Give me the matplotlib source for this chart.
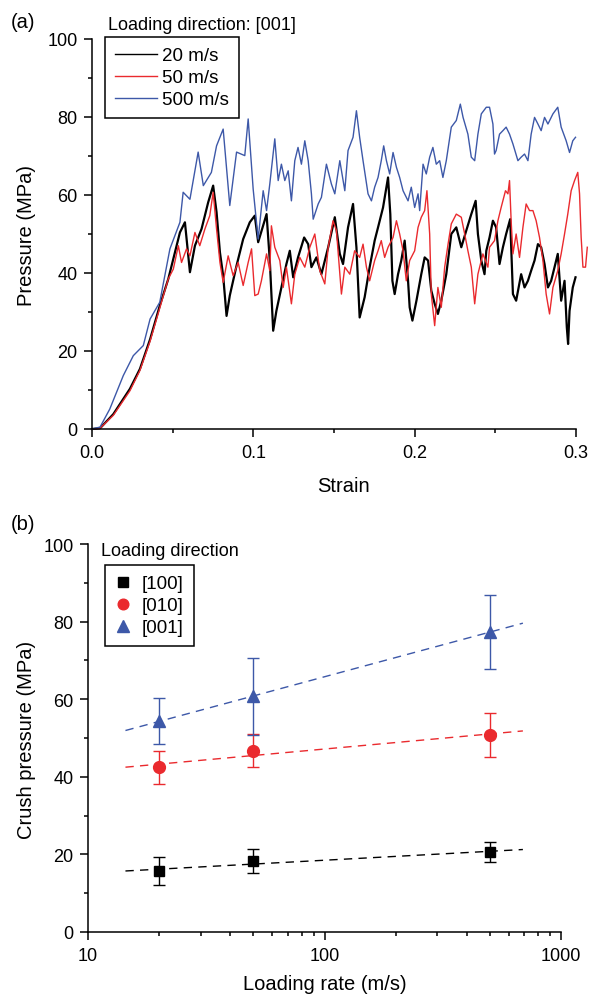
import numpy as np
import matplotlib
matplotlib.use("Agg")
import matplotlib.pyplot as plt
from matplotlib.ticker import MultipleLocator, FixedLocator, NullFormatter

plt.rcParams['font.family'] = ['Liberation Sans', 'DejaVu Sans']

# ---- (a) pressure-strain curves, loading direction [001] ----
strain_20 = [0, 0.005, 0.0132, 0.0235, 0.0297, 0.036, 0.042, 0.0473, 0.0545, 0.0576,
             0.0607, 0.0638, 0.0679, 0.072, 0.0751, 0.0772, 0.0793, 0.0813, 0.0834, 0.0854,
             0.0896, 0.0937, 0.0978, 0.1009, 0.1030, 0.1082, 0.1102, 0.1123, 0.1143, 0.1174,
             0.1205, 0.1226, 0.1247, 0.1277, 0.1315, 0.1340, 0.1360, 0.1391, 0.1422, 0.1464,
             0.1505, 0.1536, 0.1556, 0.1587, 0.1618, 0.1639, 0.1659, 0.1690, 0.1721, 0.1752,
             0.1773, 0.1804, 0.1835, 0.1849, 0.1862, 0.1876, 0.1897, 0.1917, 0.1938, 0.1959,
             0.1969, 0.1986, 0.2011, 0.2041, 0.2062, 0.2083, 0.2103, 0.2124, 0.2144, 0.2165,
             0.2196, 0.2227, 0.2258, 0.2289, 0.2320, 0.2351, 0.2378, 0.2392, 0.2413, 0.2433,
             0.2444, 0.2464, 0.2485, 0.2505, 0.2526, 0.2547, 0.2567, 0.2592, 0.2609, 0.2629,
             0.2660, 0.2681, 0.2702, 0.2722, 0.2743, 0.2764, 0.2784, 0.2805, 0.2826, 0.2846,
             0.2867, 0.2887, 0.2908, 0.2929, 0.2943, 0.2951, 0.2960, 0.2980, 0.2997]
press_20 = [0, 0.2, 3.8, 10.3, 15.4, 23.0, 31.6, 38.5, 50.4, 53.0,
            40.2, 47.0, 51.3, 58.1, 62.4, 55.6, 45.3, 39.3, 29.0, 34.2,
            41.9, 48.7, 53.0, 54.7, 47.9, 55.1, 43.2, 25.2, 30.3, 36.3,
            42.3, 45.7, 38.9, 44.0, 49.1, 47.4, 41.5, 44.0, 39.7, 46.6,
            54.3, 44.9, 42.3, 51.7, 57.7, 46.6, 28.6, 33.8, 41.5, 48.3,
            51.7, 56.8, 64.5, 55.1, 38.0, 34.6, 39.7, 43.2, 48.3, 38.0,
            31.2, 27.8, 32.9, 39.7, 44.0, 43.2, 35.5, 32.1, 29.5, 32.9,
            39.7, 50.0, 51.7, 46.6, 50.9, 55.1, 58.5, 50.0, 43.2, 39.7,
            45.7, 49.1, 53.4, 51.7, 42.3, 46.6, 50.0, 53.8, 34.6, 32.9,
            39.7, 36.3, 38.0, 40.6, 43.2, 47.4, 46.6, 42.3, 36.3, 38.0,
            41.5, 44.9, 32.9, 38.0, 26.1, 21.8, 30.3, 36.3, 38.9]

strain_50 = [0, 0.005, 0.0132, 0.0235, 0.0297, 0.036, 0.042, 0.0473, 0.0504, 0.0535,
             0.0555, 0.0586, 0.0607, 0.0638, 0.0668, 0.0700, 0.0730, 0.0751, 0.0772, 0.0793,
             0.0813, 0.0844, 0.0875, 0.0906, 0.0937, 0.0968, 0.0989, 0.1009, 0.1030, 0.1050,
             0.1082, 0.1102, 0.1112, 0.1133, 0.1164, 0.1185, 0.1205, 0.1236, 0.1257, 0.1288,
             0.1319, 0.1350, 0.1381, 0.1412, 0.1443, 0.1464, 0.1494, 0.1515, 0.1546, 0.1567,
             0.1598, 0.1628, 0.1659, 0.1680, 0.1701, 0.1721, 0.1752, 0.1773, 0.1793, 0.1814,
             0.1835, 0.1866, 0.1887, 0.1907, 0.1928, 0.1948, 0.1969, 0.2000, 0.2021, 0.2041,
             0.2062, 0.2076, 0.2093, 0.2103, 0.2124, 0.2144, 0.2165, 0.2186, 0.2207, 0.2227,
             0.2258, 0.2289, 0.2310, 0.2330, 0.2351, 0.2372, 0.2392, 0.2423, 0.2454, 0.2464,
             0.2495, 0.2516, 0.2536, 0.2563, 0.2578, 0.2588, 0.2598, 0.2609, 0.2629, 0.2650,
             0.2671, 0.2691, 0.2712, 0.2733, 0.2753, 0.2774, 0.2795, 0.2815, 0.2836, 0.2857,
             0.2887, 0.2908, 0.2929, 0.2949, 0.2970, 0.2991, 0.3011, 0.3022, 0.3032, 0.3043,
             0.3059, 0.3070]
press_50 = [0, 0.2, 3.5, 9.8, 15.0, 22.5, 31.0, 38.5, 41.0, 47.0,
            42.7, 46.2, 44.4, 50.4, 47.0, 51.3, 54.7, 60.7, 51.3, 42.7,
            37.6, 44.4, 39.3, 42.7, 36.8, 42.7, 46.2, 34.2, 34.6, 38.0,
            44.9, 40.6, 52.1, 46.6, 43.2, 36.3, 41.5, 32.1, 39.7, 44.0,
            41.5, 46.6, 50.0, 40.6, 37.2, 46.6, 53.4, 50.9, 34.6, 41.5,
            39.7, 45.7, 44.0, 47.4, 41.5, 38.0, 43.2, 45.7, 48.3, 44.0,
            46.6, 49.1, 53.4, 50.0, 45.7, 38.0, 43.2, 45.7, 51.7, 54.3,
            56.0, 61.1, 50.0, 34.6, 26.5, 36.3, 31.2, 41.5, 47.4, 52.6,
            55.1, 54.3, 50.0, 45.7, 41.5, 32.1, 39.7, 44.9, 41.5, 46.6,
            48.3, 53.4, 56.8, 61.1, 60.3, 63.7, 53.4, 44.9, 50.0, 44.0,
            51.7, 57.7, 56.0, 56.0, 53.4, 49.1, 43.2, 34.6, 29.5, 36.3,
            40.6, 44.9, 50.0, 55.1, 61.1, 63.7, 65.8, 60.3, 49.1, 41.5,
            41.5, 46.6]

strain_500 = [0, 0.005, 0.011, 0.0194, 0.0256, 0.0318, 0.036, 0.042, 0.0483, 0.0545,
              0.0565, 0.0607, 0.0658, 0.069, 0.074, 0.0772, 0.0813, 0.0854, 0.0896, 0.0947,
              0.0968, 0.0999, 0.103, 0.1061, 0.1082, 0.1102, 0.1133, 0.1154, 0.1174, 0.1195,
              0.1216, 0.1236, 0.1257, 0.1277, 0.1298, 0.1319, 0.1340, 0.1360, 0.1371, 0.1402,
              0.1422, 0.1453, 0.1484, 0.1505, 0.1536, 0.1567, 0.1587, 0.1618, 0.1639, 0.1659,
              0.1680, 0.1711, 0.1732, 0.1752, 0.1773, 0.1793, 0.1808, 0.1825, 0.1845, 0.1866,
              0.1887, 0.1907, 0.1928, 0.1959, 0.1979, 0.2000, 0.2021, 0.2031, 0.2052, 0.2072,
              0.2093, 0.2113, 0.2134, 0.2155, 0.2175, 0.2196, 0.2227, 0.2258, 0.2283, 0.2300,
              0.2330, 0.2351, 0.2372, 0.2392, 0.2413, 0.2444, 0.2464, 0.2485, 0.2495, 0.2505,
              0.2526, 0.2547, 0.2567, 0.2588, 0.2609, 0.2640, 0.2660, 0.2681, 0.2702, 0.2722,
              0.2743, 0.2764, 0.2784, 0.2805, 0.2826, 0.2857, 0.2887, 0.2908, 0.2939, 0.2960,
              0.2980, 0.2997]
press_500 = [0, 0.5, 5.1, 13.7, 18.8, 21.4, 28.2, 32.5, 46.2, 53.0,
             60.7, 58.9, 71.0, 62.4, 65.8, 72.6, 76.9, 57.3, 71.0, 70.1,
             79.5, 61.5, 48.7, 61.1, 56.0, 62.8, 74.4, 63.7, 67.9, 63.7,
             66.2, 58.5, 68.8, 72.2, 67.9, 73.9, 68.8, 60.3, 53.8, 57.7,
             59.4, 67.9, 62.8, 60.3, 68.8, 61.1, 71.4, 74.8, 81.6, 74.8,
             68.8, 60.3, 58.5, 62.0, 64.5, 68.8, 72.6, 68.8, 65.4, 70.9,
             67.1, 64.5, 61.1, 58.5, 62.0, 56.8, 60.3, 56.0, 67.9, 65.4,
             69.7, 72.2, 67.9, 68.8, 64.5, 68.8, 77.4, 79.1, 83.3, 79.9,
             75.6, 69.7, 68.8, 75.6, 80.8, 82.5, 82.5, 78.2, 70.5, 71.4,
             75.6, 76.5, 77.4, 75.6, 73.1, 68.8, 69.7, 70.5, 68.8, 75.6,
             79.9, 78.2, 76.5, 79.9, 78.2, 80.8, 82.5, 77.4, 73.9, 70.9,
             73.9, 74.8]

# ---- (b) crush pressure vs loading rate ----
rates = [20, 50, 500]
crush_100 = [15.7, 18.2, 20.6]
err_100 = [3.6, 3.1, 2.5]
crush_010 = [42.4, 46.7, 50.7]
err_010 = [4.3, 4.3, 5.7]
crush_001 = [54.3, 60.8, 77.3]
err_001 = [5.9, 9.9, 9.5]
fit_range = [14.4, 690]

BLACK = '#000000'
RED = '#ea2a2e'
BLUE = '#3d58a8'

fig = plt.figure(figsize=(5.91, 9.95), dpi=100)
W, H = 591, 995
TICK_FS = 13
LEG_FS = 13.5
LAB_FS = 14.5


def style_axes(ax):
    for side in ('top', 'right'):
        ax.spines[side].set_visible(False)
    for side in ('left', 'bottom'):
        ax.spines[side].set_linewidth(1.1)
    ax.tick_params(which='major', direction='out', length=5.5, width=1.1, labelsize=TICK_FS, pad=5)
    ax.tick_params(which='minor', direction='out', length=3, width=1.1)


# (a)
ax1 = fig.add_axes([92 / W, 1 - 430 / H, 484 / W, 390 / H])
style_axes(ax1)
ax1.plot(strain_20, press_20, color=BLACK, lw=1.6, label='20 m/s', clip_on=False)
ax1.plot(strain_50, press_50, color=RED, lw=1.0, label='50 m/s', clip_on=False)
ax1.plot(strain_500, press_500, color=BLUE, lw=1.0, label='500 m/s', clip_on=False)
ax1.set_xlim(0, 0.3)
ax1.set_ylim(0, 100)
ax1.xaxis.set_major_locator(MultipleLocator(0.1))
ax1.xaxis.set_minor_locator(MultipleLocator(0.05))
ax1.yaxis.set_major_locator(MultipleLocator(20))
ax1.yaxis.set_minor_locator(MultipleLocator(10))
ax1.set_xticklabels(['%.1f' % v for v in ax1.get_xticks()])
leg1 = ax1.legend(loc='upper left', bbox_to_anchor=(105 / W, 1 - 38 / H),
                  bbox_transform=fig.transFigure, borderaxespad=0, fancybox=False,
                  edgecolor='black', fontsize=LEG_FS, handlelength=2.2, handletextpad=0.3,
                  labelspacing=0.25, borderpad=0.55, framealpha=1)
leg1.get_frame().set_linewidth(1.1)
for line in leg1.get_lines():
    line.set_linewidth(1.0)
fig.text(108 / W, 1 - 25 / H, 'Loading direction: [001]', fontsize=LEG_FS - 0.5, ha='left', va='center')
fig.text(23 / W, 1 - 22 / H, '(a)', fontsize=LAB_FS, ha='center', va='center')
fig.text(27 / W, 1 - 235 / H, 'Pressure (MPa)', fontsize=LAB_FS, rotation=90, ha='center', va='center')
fig.text(343 / W, 1 - 487 / H, 'Strain', fontsize=LAB_FS, ha='center', va='center')

# (b)
ax2 = fig.add_axes([88 / W, 1 - 933 / H, 473 / W, 388 / H])
style_axes(ax2)
ax2.set_xscale('log')
ax2.set_xlim(10, 1000)
ax2.set_ylim(0, 100)
ax2.yaxis.set_major_locator(MultipleLocator(20))
ax2.yaxis.set_minor_locator(MultipleLocator(10))
ax2.xaxis.set_major_locator(FixedLocator([10, 100, 1000]))
ax2.set_xticklabels(['10', '100', '1000'])
ax2.xaxis.set_minor_locator(FixedLocator([m * d for d in (10, 100) for m in range(2, 10)]))
ax2.xaxis.set_minor_formatter(NullFormatter())

series = [(crush_100, err_100, BLACK, 's', '[100]', 7.5),
          (crush_010, err_010, RED, 'o', '[010]', 8.5),
          (crush_001, err_001, BLUE, '^', '[001]', 9)]
log_rates = np.log10(rates)
xfit = np.array(fit_range)
for vals, errs, col, mk, lab, ms in series:
    slope, icpt = np.polyfit(log_rates, vals, 1)
    ax2.plot(xfit, slope * np.log10(xfit) + icpt, ls=(0, (6, 4.5)), color=col, lw=1.0)
    ax2.errorbar(rates, vals, yerr=errs, fmt=mk, color=col, ms=ms, mec=col,
                 elinewidth=1.0, capsize=4, capthick=1.0, label=lab, clip_on=False)
handles, labels = ax2.get_legend_handles_labels()
leg2 = ax2.legend([h[0] for h in handles], labels, loc='upper left',
                  bbox_to_anchor=(105 / W, 1 - 566 / H), bbox_transform=fig.transFigure,
                  borderaxespad=0, fancybox=False, edgecolor='black', fontsize=LEG_FS,
                  handlelength=0.8, handletextpad=0.6, labelspacing=0.25, borderpad=0.55,
                  framealpha=1, markerscale=0.9)
leg2.get_frame().set_linewidth(1.1)
fig.text(101 / W, 1 - 552 / H, 'Loading direction', fontsize=LEG_FS - 0.5, ha='left', va='center')
fig.text(23 / W, 1 - 524 / H, '(b)', fontsize=LAB_FS, ha='center', va='center')
fig.text(27 / W, 1 - 740 / H, 'Crush pressure (MPa)', fontsize=LAB_FS, rotation=90, ha='center', va='center')
fig.text(325 / W, 1 - 985 / H, 'Loading rate (m/s)', fontsize=LAB_FS, ha='center', va='center')

fig.savefig('out.png', dpi=100)
